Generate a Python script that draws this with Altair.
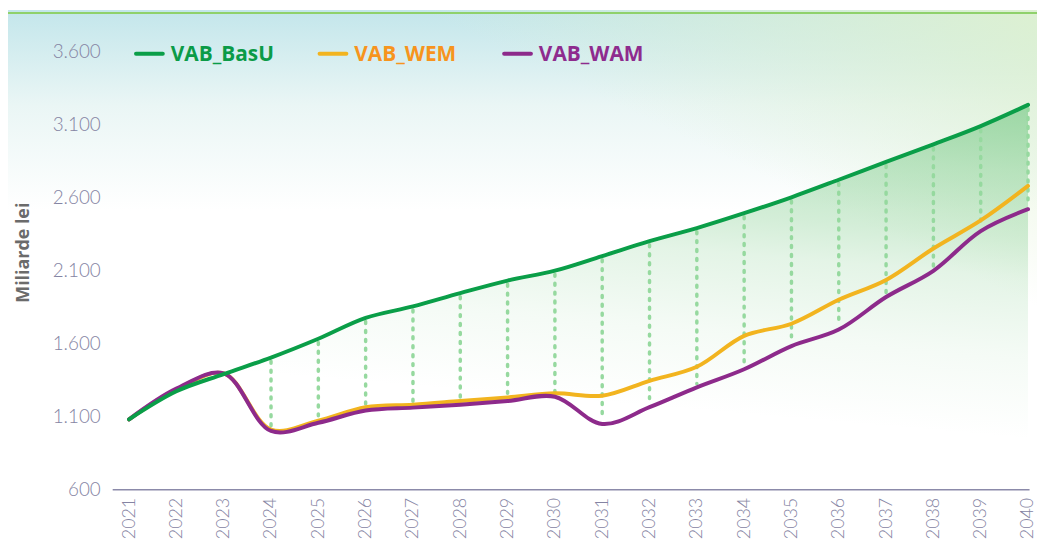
import altair as alt
import pandas as pd

# ---- data ----
years = list(range(2021, 2041))
vab_basu = [1080, 1272, 1390, 1503, 1632, 1775, 1854, 1945, 2031, 2099,
            2199, 2301, 2391, 2493, 2602, 2722, 2845, 2965, 3090, 3235]
vab_wem = [1080, 1282, 1395, 1010, 1071, 1163, 1180, 1205, 1230, 1258,
           1242, 1344, 1440, 1652, 1735, 1899, 2035, 2251, 2443, 2680]
vab_wam = [1080, 1290, 1395, 1000, 1056, 1140, 1160, 1180, 1205, 1235,
           1048, 1163, 1299, 1423, 1582, 1695, 1918, 2098, 2370, 2520]
series_names = ["VAB_BasU", "VAB_WEM", "VAB_WAM"]
line_colors = ["#0a9e48", "#f2b41f", "#8d2a8b"]
label_colors = ["#0b9b47", "#f7941d", "#8e2b8e"]
y_ticks = [600, 1100, 1600, 2100, 2600, 3100, 3600]
first_gap_year = 2024

df = pd.DataFrame({"year": years, "VAB_BasU": vab_basu,
                   "VAB_WEM": vab_wem, "VAB_WAM": vab_wam})
one = pd.DataFrame({"k": [0]})

W, H = 924, 479
PAD = {"left": 105, "top": 4, "right": 8, "bottom": 50}

x_scale = alt.Scale(domain=[2020.643, 2040.022], nice=False, zero=False)
y_scale = alt.Scale(domain=[600, 3858], nice=False, zero=False)

axis_font = "Lato"
x_axis = alt.Axis(values=years, format="d", labelAngle=270, labelPadding=8,
                  ticks=False, grid=False, domainColor="#8b8aa9", domainWidth=1.5,
                  labelColor="#8584a3", labelFontSize=18, labelFont=axis_font,
                  labelFontWeight=300, zindex=2)
y_axis = alt.Axis(values=y_ticks,
                  labelExpr="replace(format(datum.value, ','), ',', '.')",
                  domain=False, ticks=False, grid=False, labelPadding=12,
                  labelColor="#8584a3", labelFontSize=19, labelFont=axis_font,
                  labelFontWeight=300, zindex=2,
                  titleX=-89, titleY=240, titleAngle=270, titleAlign="center",
                  titleBaseline="middle", titleFont="Open Sans", titleFontWeight="bold",
                  titleFontSize=18, titleColor="#6b6b6b")

x_enc = alt.X("year:Q", scale=x_scale, axis=x_axis, title=None)


def y_enc(field):
    return alt.Y(f"{field}:Q", scale=y_scale, axis=y_axis, title="Miliarde lei")


# ---- background ----
bg1 = alt.Chart(one).mark_rect(
    color=alt.Gradient(gradient="linear", x1=0, y1=0, x2=0, y2=1, stops=[
        alt.GradientStop(color="#c3e6eb", offset=0),
        alt.GradientStop(color="#eaf6f5", offset=0.18),
        alt.GradientStop(color="#ffffff", offset=0.38),
        alt.GradientStop(color="#ffffff", offset=1)])
).encode(x=alt.value(-PAD["left"]), x2=alt.value(W + PAD["right"]),
         y=alt.value(-PAD["top"]), y2=alt.value(H + PAD["bottom"]))

bg2 = alt.Chart(one).mark_rect(
    color=alt.Gradient(gradient="linear", x1=1, y1=0, x2=0.72, y2=0.3, stops=[
        alt.GradientStop(color="rgba(222,241,208,0.95)", offset=0),
        alt.GradientStop(color="rgba(222,241,208,0)", offset=1)])
).encode(x=alt.value(-PAD["left"]), x2=alt.value(W + PAD["right"]),
         y=alt.value(-PAD["top"]), y2=alt.value(H + PAD["bottom"]))

top_rule = alt.Chart(one).mark_rule(color="#8fd16b", strokeWidth=2).encode(
    x=alt.value(-PAD["left"]), x2=alt.value(W + PAD["right"]), y=alt.value(-1))

# ---- gap area under the baseline scenario ----
area = alt.Chart(df).mark_area(
    interpolate="catmull-rom",
    color=alt.Gradient(gradient="linear", x1=1, y1=0, x2=0.833, y2=0.836, stops=[
        alt.GradientStop(color="rgba(150,213,160,0.92)", offset=0),
        alt.GradientStop(color="rgba(150,213,160,0.62)", offset=0.2),
        alt.GradientStop(color="rgba(150,213,160,0.42)", offset=0.4),
        alt.GradientStop(color="rgba(150,213,160,0.26)", offset=0.52),
        alt.GradientStop(color="rgba(150,213,160,0.1)", offset=0.75),
        alt.GradientStop(color="rgba(150,213,160,0)", offset=1)])
).encode(x=x_enc, y=y_enc("VAB_BasU"), y2=alt.datum(600))

gaps = alt.Chart(df).transform_filter(
    alt.datum.year >= first_gap_year
).transform_calculate(
    top="datum.VAB_BasU - 25", bot="datum.VAB_WAM + 25"
).mark_rule(color="#96d99f", strokeWidth=3.5, strokeDash=[2, 7],
            strokeCap="round").encode(x=x_enc, y=y_enc("top"), y2="bot:Q")


def series_line(name, color):
    return alt.Chart(df).mark_line(
        interpolate="catmull-rom", color=color, strokeWidth=4, strokeCap="round"
    ).encode(x=x_enc, y=y_enc(name))


lines = [series_line(series_names[1], line_colors[1]),
         series_line(series_names[2], line_colors[2]),
         series_line(series_names[0], line_colors[0])]

# ---- legend ----
legend_x = [24, 209, 395]
legend_layers = []
for name, lc, tc, lx in zip(series_names, line_colors, label_colors, legend_x):
    legend_layers.append(
        alt.Chart(one).mark_rule(color=lc, strokeWidth=4, strokeCap="round").encode(
            x=alt.value(lx), x2=alt.value(lx + 27), y=alt.value(40)))
    legend_layers.append(
        alt.Chart(one).mark_text(align="left", baseline="middle", font="Open Sans",
                                 fontSize=21, fontWeight="bold", color=tc).encode(
            x=alt.value(lx + 35), y=alt.value(41), text=alt.value(name)))

chart = alt.layer(bg1, bg2, top_rule, area, gaps, *lines, *legend_layers).properties(
    width=W, height=H,
    autosize=alt.AutoSizeParams(type="none"),
    padding=PAD,
).configure_view(strokeWidth=0)

chart.save("out.html", embed_options={"renderer": "svg", "actions": False})
